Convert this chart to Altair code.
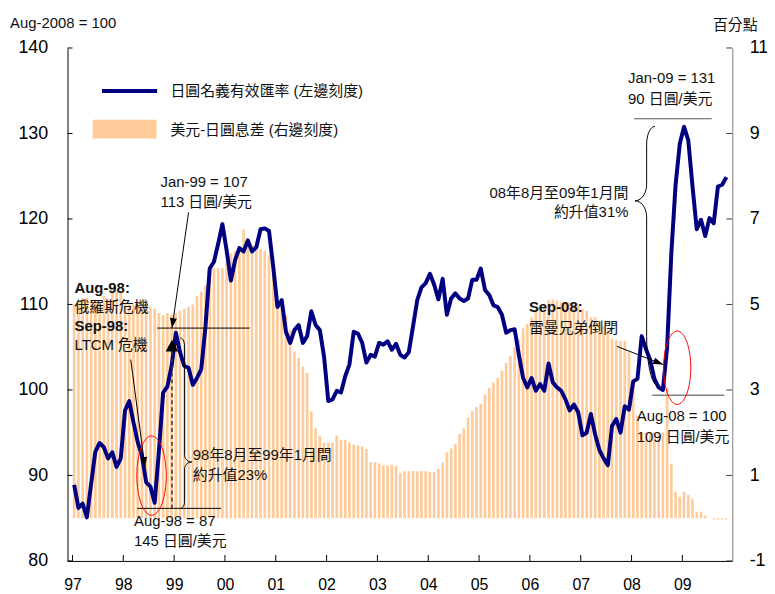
import math
import numpy as np
import pandas as pd
import altair as alt

# ---------------- data ----------------
# JPY nominal effective exchange rate, monthly Jan-1997 .. Nov-2009 (Aug-2008 = 100)
neer = [88.9, 86.2, 86.7, 85.1, 89.0, 92.8, 93.8, 93.3, 92.0, 92.7, 91.0, 92.0,
        97.6, 98.7, 96.2, 93.9, 92.3, 89.2, 88.7, 86.8, 92.8, 99.7, 100.4, 102.8,
        106.7, 104.4, 102.8, 102.6, 100.6, 101.4, 102.4, 107.4, 114.2, 115.0, 117.1, 119.4,
        116.3, 112.8, 115.2, 116.6, 116.2, 117.5, 116.2, 116.7, 118.8, 118.9, 118.6, 114.4,
        109.7, 110.5, 106.8, 105.5, 107.0, 107.6, 105.5, 106.3, 109.2, 107.6, 107.0, 103.9,
        98.7, 98.9, 99.9, 99.7, 101.6, 103.0, 106.8, 106.6, 105.5, 103.2, 104.1, 103.9,
        105.5, 105.3, 105.7, 104.7, 105.4, 104.1, 103.8, 104.4, 107.4, 110.5, 112.0, 112.5,
        113.6, 112.3, 110.6, 113.0, 108.8, 110.7, 111.3, 110.7, 110.4, 110.7, 112.9, 112.9,
        114.2, 111.7, 111.1, 109.9, 109.7, 108.8, 106.7, 107.0, 107.1, 104.1, 101.4, 100.3,
        101.4, 99.9, 100.7, 99.9, 103.1, 100.9, 100.3, 99.9, 98.9, 97.6, 98.3, 97.4,
        94.7, 95.0, 97.2, 94.8, 93.0, 92.0, 91.2, 95.8, 96.6, 95.0, 98.1, 97.7,
        101.0, 101.3, 106.3, 104.8, 103.5, 101.3, 100.3, 100.0, 105.0, 116.0, 124.0, 128.8,
        130.8, 129.2, 123.8, 118.8, 119.9, 118.0, 120.1, 119.5, 123.8, 124.0, 124.9]

# USD-JPY interest rate differential, percentage points, same months
rate_diff = [5.0, 5.1, 5.15, 5.15, 5.1, 5.1, 5.05, 5.2, 5.1, 5.3, 5.3, 5.3,
             5.05, 5.0, 5.0, 5.05, 5.0, 5.0, 4.95, 4.9, 4.8, 4.75, 4.8, 4.75,
             4.8, 4.85, 4.9, 4.95, 5.0, 5.2, 5.3, 5.45, 5.8, 5.85, 5.85, 5.85,
             6.0, 6.2, 6.25, 6.3, 6.75, 6.45, 6.4, 6.4, 6.3, 6.25, 6.15, 5.9,
             5.1, 4.95, 4.75, 4.4, 3.9, 3.75, 3.55, 3.4, 2.5, 2.1, 1.93, 1.77,
             1.77, 1.77, 1.94, 1.83, 1.83, 1.77, 1.72, 1.70, 1.68, 1.62, 1.31, 1.31,
             1.28, 1.23, 1.23, 1.25, 1.23, 1.06, 1.1, 1.1, 1.1, 1.1, 1.1, 1.1,
             1.08, 1.08, 1.15, 1.3, 1.54, 1.63, 1.73, 1.97, 2.1, 2.35, 2.51, 2.6,
             2.68, 2.89, 3.05, 3.17, 3.28, 3.45, 3.63, 3.80, 4.0, 4.18, 4.44, 4.55,
             4.7, 4.85, 4.95, 5.0, 5.1, 5.12, 5.1, 5.05, 5.05, 5.05, 5.0, 5.0,
             4.9, 4.85, 4.7, 4.7, 4.6, 4.5, 4.4, 4.2, 4.17, 4.15, 4.15, 3.9,
             3.2, 2.4, 2.0, 2.0, 2.0, 2.0, 2.0, 2.0, 3.05, 1.27, 0.62, 0.5,
             0.62, 0.55, 0.46, 0.15, 0.15, 0.06, 0.0, -0.03, -0.03, -0.03, -0.03]

year_ticks = list(range(1997, 2010))
left_ticks = [80, 90, 100, 110, 120, 130, 140]
right_ticks = [-1, 1, 3, 5, 7, 9, 11]

months = np.arange(len(neer))
df = pd.DataFrame({
    "t": 1997 + (months + 0.4) / 12.0,
    "neer": neer,
    "diff": rate_diff,
})

# ---------------- styling ----------------
W, H = 670, 517
FONT = "Liberation Sans, Arial, Noto Sans CJK TC, sans-serif"
NAVY = "#000080"
ORANGE = "#FFCC99"


def xscale():
    return alt.Scale(domain=[1997, 1997 + W / 52.0], nice=False, zero=False)


def yl_scale():
    return alt.Scale(domain=[80, 140], nice=False, zero=False)


def yr_scale():
    return alt.Scale(domain=[-1, 11], nice=False, zero=False)


def xaxis():
    # identical spec in every layer sharing the x scale, so the merged axis is kept
    return alt.Axis(values=year_ticks, labelExpr="substring(toString(datum.value), 2, 4)",
                    ticks=False, grid=False, title=None, labelFontSize=16, labelFont=FONT,
                    labelPadding=16, labelColor="black", domainColor="black",
                    labelFlush=False, labelOverlap=False)


# ---------------- data marks ----------------
bars = alt.Chart(df).mark_bar(color=ORANGE, size=2.7).encode(
    x=alt.X("t:Q", scale=xscale(), axis=xaxis()),
    y=alt.Y("diff:Q", scale=yr_scale(),
            axis=alt.Axis(orient="right", values=right_ticks, ticks=False, grid=False,
                          title=None, labelFontSize=18, labelFont=FONT, labelPadding=17,
                          labelExpr="toString(datum.value)",
                          labelColor="black", domainColor="#808080")),
    y2=alt.datum(0),
)
rticks = alt.Chart(pd.DataFrame({"rv": right_ticks})).mark_rule(color="#404040").encode(
    y=alt.Y("rv:Q", scale=yr_scale(), axis=None),
    x=alt.value(W), x2=alt.value(W - 6),
)

line = alt.Chart(df).mark_line(color=NAVY, strokeWidth=4, strokeJoin="round").encode(
    x=alt.X("t:Q", scale=xscale(), axis=xaxis()),
    y=alt.Y("neer:Q", scale=yl_scale(),
            axis=alt.Axis(orient="left", values=left_ticks, ticks=False, grid=False, title=None,
                          labelFontSize=18, labelFont=FONT, labelPadding=20, labelColor="black",
                          domainColor="black")),
)
lticks = alt.Chart(pd.DataFrame({"lv": left_ticks})).mark_rule(color="black").encode(
    y=alt.Y("lv:Q", scale=yl_scale(), axis=None),
    x=alt.value(0), x2=alt.value(5),
)
xticks = alt.Chart(pd.DataFrame({"t": year_ticks})).mark_rule(color="black").encode(
    x=alt.X("t:Q", scale=xscale(), axis=xaxis()),
    y=alt.value(H), y2=alt.value(H - 6),
)

# ---------------- annotations (pixel positions in the plot area) ----------------
def px(f):
    return alt.X(f, scale=None, axis=None)


def py(f):
    return alt.Y(f, scale=None, axis=None)


def text_layer(rows, align="left", bold=False, size=15):
    d = pd.DataFrame(rows, columns=["px", "py", "label"])
    return alt.Chart(d).mark_text(align=align, baseline="middle", font=FONT, fontSize=size,
                                  fontWeight="bold" if bold else "normal", color="#111").encode(
        x=px("px:Q"), y=py("py:Q"), text="label:N")


txt_left = text_layer([
    (-58, -25, "Aug-2008 = 100"),
    (103.7, 43.3, "日圓名義有效匯率 (左邊刻度)"),
    (103.7, 82.5, "美元-日圓息差 (右邊刻度)"),
    (93.7, 135, "Jan-99 = 107"),
    (93.7, 155, "113 日圓/美元"),
    (7, 261.5, "俄羅斯危機"),
    (7, 299, "LTCM 危機"),
    (126.3, 410, "98年8月至99年1月間"),
    (126.3, 430, "約升值23%"),
    (67, 477, "Aug-98 = 87"),
    (67, 497, "145 日圓/美元"),
    (565, 30, "Jan-09 = 131"),
    (565, 51.5, "90 日圓/美元"),
    (465, 282, "雷曼兄弟倒閉"),
    (573.7, 370.5, "Aug-08 = 100"),
    (573.7, 392, "109 日圓/美元"),
])
txt_bold = text_layer([
    (7, 241.5, "Aug-98:"),
    (7, 280, "Sep-98:"),
    (465, 260.7, "Sep-08:"),
], bold=True)
txt_right = text_layer([
    (565.3, 146, "08年8月至09年1月間"),
    (565.3, 165.5, "約升值31%"),
], align="right")
txt_center = text_layer([(673, -23, "百分點")], align="center")


def rule_layer(rows, color="black", width=1.0, dash=None):
    d = pd.DataFrame(rows, columns=["x1", "y1", "x2", "y2"])
    kw = dict(color=color, strokeWidth=width)
    if dash:
        kw["strokeDash"] = dash
    return alt.Chart(d).mark_rule(**kw).encode(
        x=px("x1:Q"), y=py("y1:Q"), x2="x2:Q", y2="y2:Q")


arrows = [
    (122.0, 165.7, 105.3, 282.3),   # Jan-99 arrow
    (63.7, 314.0, 78.0, 422.3),     # Aug/Sep-98 arrow
    (553.7, 300.7, 600.3, 319.0),   # Sep-08 arrow
]
rules_black = rule_layer([
    (90.3, 282.3, 183.7, 282.3),
    (70.3, 464.0, 154.7, 464.0),
] + arrows)
rule_m = rule_layer([(571.0, 71.3, 649.3, 71.3)], color="#555555")
rule_s = rule_layer([(589.3, 350.0, 662.0, 350.0)], color="#808080", width=1.5)
rule_dash = rule_layer([(105.3, 306.0, 105.3, 464.0)], color="#333333", width=1.5, dash=[4, 3])
legend_line = rule_layer([(34.7, 43.3, 90.3, 43.3)], color=NAVY, width=4)
legend_rect = alt.Chart(pd.DataFrame({"a": [0]})).mark_rect(color=ORANGE).encode(
    x=alt.value(25.3), x2=alt.value(89.7), y=alt.value(72.3), y2=alt.value(91.3))


def heading(x0, y0, x1, y1):
    return (math.degrees(math.atan2(x1 - x0, -(y1 - y0))) + 360.0) % 360.0


heads = pd.DataFrame([(a[2], a[3], heading(*a)) for a in arrows], columns=["hx", "hy", "ang"])
head_layer = alt.Chart(heads).mark_point(shape="M0,0 L-0.35,1 L0.35,1 Z", filled=True,
                                         color="black", size=400, opacity=1).encode(
    x=px("hx:Q"), y=py("hy:Q"), angle=alt.Angle("ang:Q", scale=None))
big_head = alt.Chart(pd.DataFrame({"hx": [105.3], "hy": [294.0]})).mark_point(
    shape="M0,0 L-0.54,1 L0.54,1 Z", filled=True, color="black", size=576, opacity=1).encode(
    x=px("hx:Q"), y=py("hy:Q"))

k, rx = 0.5523, 0.37
ELLIPSE = (f"M0,-1 C{k*rx:.4f},-1 {rx},{-k} {rx},0 C{rx},{k} {k*rx:.4f},1 0,1 "
           f"C{-k*rx:.4f},1 {-rx},{k} {-rx},0 C{-rx},{-k} {-k*rx:.4f},-1 0,-1 Z")
ellipses = alt.Chart(pd.DataFrame({"ex": [84.7, 614.5], "ey": [431.0, 322.3], "s": [6400, 5476]})).mark_point(
    shape=ELLIPSE, filled=False, color="red", strokeWidth=1, opacity=1).encode(
    x=px("ex:Q"), y=py("ey:Q"), size=alt.Size("s:Q", scale=None))


def arc(cx, cy, rxx, ryy, a0, a1, n=10):
    a = np.linspace(a0, a1, n)
    return list(zip(cx + rxx * np.cos(a), cy + ryy * np.sin(a)))


def brace(bid, xb, ytop, ytip, ybot, d, rt, rm, rb):
    pts = []
    pts += arc(xb - rt[0], ytop + rt[1], rt[0], rt[1], -np.pi / 2, 0)
    pts += arc(xb + rm[0], ytip - rm[1], rm[0], rm[1], np.pi, np.pi / 2)
    pts += arc(xb + rm[0], ytip + rm[1], rm[0], rm[1], 1.5 * np.pi, np.pi)
    pts += arc(xb - rb[0], ybot - rb[1], rb[0], rb[1], 0, np.pi / 2)
    return [(bid, i, xb + d * (x - xb), y) for i, (x, y) in enumerate(pts)]


brace_rows = brace("b98", 118.0, 292.3, 417.3, 464.0, 1, (4.3, 8.4), (7.3, 6.7), (4.3, 6.7)) + \
    brace("b08", 583.7, 79.0, 154.0, 340.7, -1, (8.4, 18.0), (11.7, 16.7), (11.6, 50.0))
braces = alt.Chart(pd.DataFrame(brace_rows, columns=["id", "o", "bx", "by"])).mark_line(
    color="black", strokeWidth=1).encode(
    x=px("bx:Q"), y=py("by:Q"), detail="id:N", order="o:Q")

# ---------------- assemble (flat layer, independent y scales with equal domains) ----------------
chart = alt.layer(
    bars, rticks, line, lticks, xticks,
    legend_rect, legend_line,
    rules_black, rule_m, rule_s, rule_dash, braces,
    head_layer, big_head, ellipses,
    txt_left, txt_bold, txt_right, txt_center,
).resolve_scale(y="independent").properties(
    width=W, height=H,
    padding={"left": 60, "top": 38, "right": 35, "bottom": 30},
    autosize=alt.AutoSizeParams(type="none"),
).configure_view(stroke=None)

chart.save("out.html", embed_options={"renderer": "svg", "actions": False})
